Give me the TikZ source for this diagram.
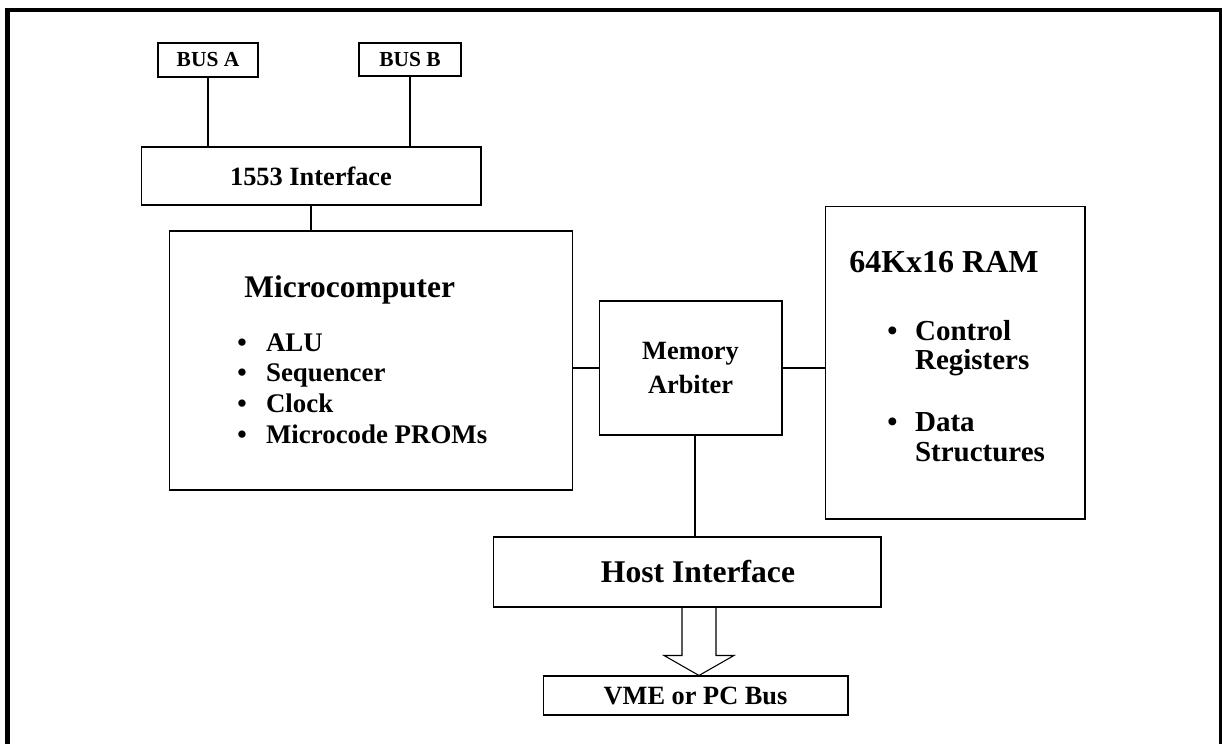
\documentclass[tikz,border=0pt]{standalone}
\usepackage{fontspec}
\setmainfont{Liberation Serif}
\begin{document}
\begin{tikzpicture}[x=0.02cm,y=-0.02cm,
    box/.style={draw,line width=0.6pt,inner sep=0pt,align=center,font=\bfseries},
    wire/.style={line width=0.6pt},
    txt/.style={inner sep=0pt,font=\bfseries}]
\useasboundingbox (0,0) rectangle (1222,743);
\clip (0,0) rectangle (1222,743);
\draw[line width=2.8pt] (7.5,10) rectangle (1221,800);

% buses and 1553 side
\node[box,minimum width=2cm,minimum height=0.68cm,font=\bfseries\fontsize{12.2}{14}\selectfont](busa) at (208,60){BUS A};
\node[box,minimum width=2.04cm,minimum height=0.66cm,font=\bfseries\fontsize{12.2}{14}\selectfont](busb) at (410,59.5){BUS B};
\node[box,minimum width=6.8cm,minimum height=1.16cm,font=\bfseries\fontsize{15}{18}\selectfont](iface) at (311,176){1553 Interface};

% main blocks
\node[box,minimum width=8.08cm,minimum height=5.18cm](micro) at (371,360.5){};
\node[box,minimum width=3.66cm,minimum height=2.68cm,font=\bfseries\fontsize{15}{18.8}\selectfont](arb) at (690.5,368){Memory\\Arbiter};
\node[box,minimum width=5.2cm,minimum height=6.26cm](ram) at (955,362.5){};
\node[box,minimum width=7.76cm,minimum height=1.4cm,font=\bfseries\fontsize{18}{21}\selectfont](host) at (687,572){\hspace*{0.44cm}Host Interface};
\node[box,minimum width=6.1cm,minimum height=0.78cm,font=\bfseries\fontsize{15}{18}\selectfont](vme) at (695.5,695.5){VME or PC Bus};

% texts inside the blocks
\node[txt,anchor=base west,font=\bfseries\fontsize{17.9}{21}\selectfont](microtitle) at (244,297){Microcomputer};
\node[txt,anchor=base west,font=\bfseries\fontsize{15.3}{17.6}\selectfont](microlist) at (237,351){%
  \begin{tabular}[t]{@{}l@{\hspace{11pt}}l@{}}
  \textbullet & ALU\\
  \textbullet & Sequencer\\
  \textbullet & Clock\\
  \textbullet & Microcode PROMs
  \end{tabular}};
\node[txt,anchor=base west,font=\bfseries\fontsize{18.2}{21}\selectfont](ramtitle) at (849,272){64Kx16 RAM};
\node[txt,anchor=base west,font=\bfseries\fontsize{16.5}{17}\selectfont](ramlist) at (887,340){%
  \begin{tabular}[t]{@{}l@{\hspace{10pt}}l@{}}
  \textbullet & Control\\
   & Registers\\[18pt]
  \textbullet & Data\\
   & Structures
  \end{tabular}};

% connections
\draw[wire](busa)--(busa |- iface.north);
\draw[wire](busb)--(busb |- iface.north);
\draw[wire](iface.south)--(iface.south |- micro.north);
\draw[wire](arb.west)--(arb.west -| micro.east);
\draw[wire](arb.east)--(arb.east -| ram.west);
\draw[wire]([xshift=0.09cm]arb.south)--([xshift=0.09cm]arb.south |- host.north);

% hollow arrow to the bus
\coordinate(tip) at (vme.north -| 699,0);
\draw[wire](tip)--++(-35,-20)--++(18,0)--(host.south -| 682,0);
\draw[wire](tip)--++(35,-20)--++(-18,0)--(host.south -| 716,0);
\end{tikzpicture}
\end{document}
